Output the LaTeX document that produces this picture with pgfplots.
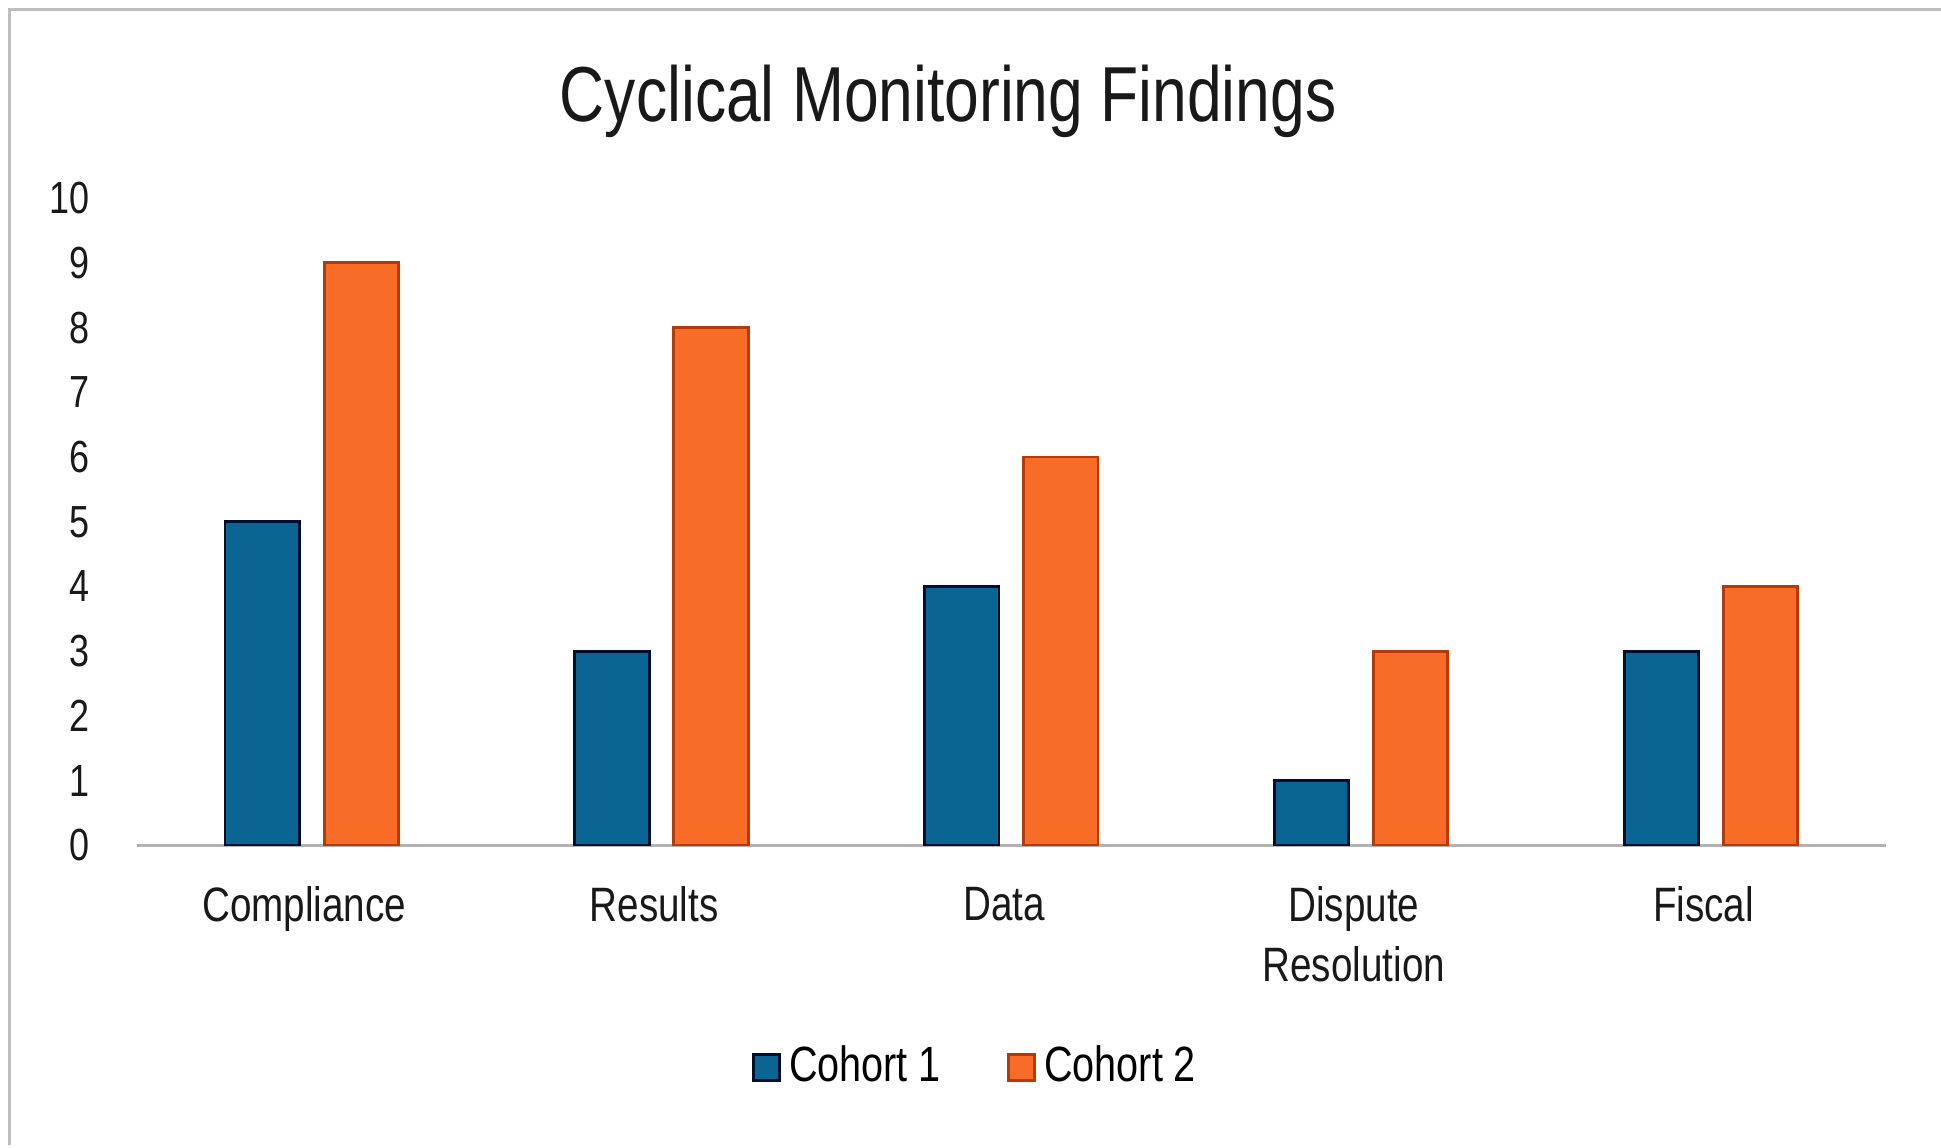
\documentclass[border=0pt]{standalone}
\usepackage{pgfplots}
\pgfplotsset{compat=1.18}
\usepackage{fontspec}
\setmainfont{Liberation Sans}[FakeStretch=0.8]
\definecolor{cfillA}{HTML}{0B6592}
\definecolor{cdrawA}{HTML}{000D2E}
\definecolor{cfillB}{HTML}{F76D27}
\definecolor{cdrawB}{HTML}{B53A08}
\definecolor{bordergray}{HTML}{BEBEBE}
\definecolor{axisgray}{HTML}{B3B3B3}
\begin{document}
\begin{tikzpicture}
\path[use as bounding box] (0pt,0pt) rectangle (470.4pt,278.1pt);
\draw[bordergray, line width=0.75pt] (2.4pt,0.6pt) -- (2.4pt,275.7pt) -- (470.4pt,275.7pt);
\node[anchor=base, font=\fontsize{18.9}{22}\selectfont, text=black!90] at (229.8pt,248.7pt) {Cyclical Monitoring Findings};
\begin{axis}[
  at={(33.15pt,73.2pt)}, anchor=south west,
  scale only axis, width=423.9pt, height=156.9pt,
  xmin=-0.5, xmax=4.5, ymin=0, ymax=10,
  ybar=6pt, bar width=18pt,
  axis x line*=bottom, axis y line*=left,
  x axis line style={axisgray, line width=0.6pt, -},
  y axis line style={draw=none},
  major tick length=0pt,
  xtick={0,1,2,3,4},
  xticklabels={Compliance, Results, Data, {Dispute\\Resolution}, Fiscal},
  ytick={0,1,...,10},
  /pgf/number format/assume math mode=true,
  xticklabel style={align=center, anchor=north, yshift=-6.5pt, xshift=-1.8pt, font=\fontsize{11.7}{14.4}\selectfont, text=black!90},
  yticklabel style={anchor=east, xshift=-8pt, font=\fontsize{10.9}{12}\selectfont, text=black!90},
  legend style={at={(0.481,-0.342)}, anchor=center, draw=none, fill=none,
    legend columns=2, font=\fontsize{12}{14}\selectfont,
    /tikz/every even column/.append style={column sep=14pt},
    legend cell align=left, inner sep=0pt},
  legend image code/.code={\draw[#1, line width=0.7pt] (0pt,-3.2pt) rectangle (6.3pt,3.1pt);},
]
\addplot[fill=cfillA, draw=cdrawA, line width=0.7pt] coordinates {(0,5) (1,3) (2,4) (3,1) (4,3)};
\addplot[fill=cfillB, draw=cdrawB, line width=0.7pt] coordinates {(0,9) (1,8) (2,6) (3,3) (4,4)};
\legend{Cohort 1, Cohort 2}
\end{axis}
\end{tikzpicture}
\end{document}
